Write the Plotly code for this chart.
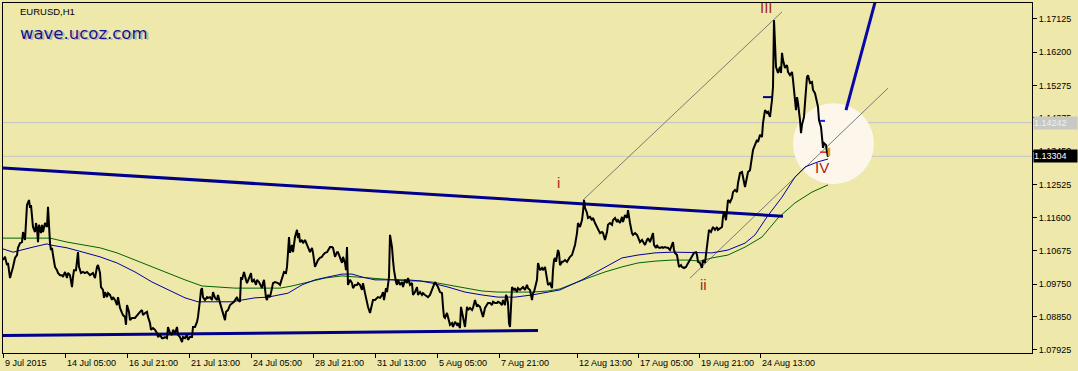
import plotly.graph_objects as go

# ---------------- data ----------------
# bar index (hourly bars, 0 = left edge of the chart) and price
bars = [0,2,4,5,7,9,10,12,14,15,17,19,20,22,23,24,26,27,28,29,30,32,33,34,35,36,38,39,40,42,44,45,46,47,48,49,50,52,54,55,57,59,60,62,64,65,67,69,70,71,73,74,75,76,78,80,82,84,87,90,92,94,95,97,98,100,101,102,104,105,107,109,110,112,114,115,117,119,120,122,123,124,126,127,129,132,134,136,137,139,140,142,144,145,147,148,150,152,154,155,157,159,160,162,164,165,167,169,170,172,174,175,177,179,180,182,184,185,187,189,190,192,194,195,196,197,198,199,200,202,204,205,207,209,210,212,214,215,217,219,220,222,223,225,227,229,231,234,235,237,238,239,241,243,244,246,248,249,251,253,254,256,258,259,260,261,263,264,265,267,269,270,272,275,277,279,280,281,283,284,285,286,287,289,290,292,294,295,296,297,299,300,302,304,305,307,309,310,312,314,315,317,319,320,322,324,325,327,329,330,332,334,335,337,339,340,342,343,344,345,347,349,350,352,354,355,357,359,360,362,364,365,367,369,370,372,374,375,377,379,380,381,383,384,385,386,387,389,390,391,393,394,395,397,399,400,402,404,405,407,409,410,412,414,415,417,419,420,422,424,425,427,429,430,432,434,435,437,439,440,441,442,444,445,447,449,450,452,454,455,457,458,459,461,462,464,465,467,469,470,472,474,475,477,479,480,482,484,485,487,489,490,492,494,495,497,499,500,502,503,504,505,506,507,508,509,511,512,514,515,517,519,520,522,524,525,527,529,530,531,532,534,535,536,537,539,540,542,544,545,547,549,550,551,552,553,555,556,557,559,560,562,564,565,567,569,570,572,574,575,577,579,580,581,582,584,585,587,589,590,592,594,595,597,599,600,602,604,605,607,609,610,612,614,615,617,619,620,622,624,625,626,627,629,630,632,634,635,637,639,640,642,644,645,647,649,650,651,653,654,655,657,659,660,662,664,665,667,669,670,671,672,674,675,676,678,679,681,683,684,686,688,689,691,693,694,695,697,699,700,702,704,705,706,708,710,712,714,715,717,719,720,721,723,724,725,727,729,730,732,734,735,737,739,740,742,744,745,747,749,750,752,754,755,757,759,760,762,764,765,767,769,770,771,772,773,775,777,778,779,780,782,784,785,787,789,790,791,793,794,795,797,798,799,801,802,803,804,805,807,809,810,812,814,815,816,818,819,820,821,823,824,825]
prices = [1.1042,1.1051,1.1028,1.1034,1.0992,1.1009,1.1023,1.1048,1.1056,1.1076,1.1089,1.1092,1.1120,1.1098,1.1162,1.1195,1.1209,1.1187,1.1195,1.1167,1.1134,1.1120,1.1145,1.1131,1.1092,1.1140,1.1117,1.1140,1.1120,1.1145,1.1134,1.1190,1.1126,1.1089,1.1070,1.1076,1.1056,1.1023,1.1014,1.1006,1.1000,1.1000,1.0995,1.1009,1.0992,1.1006,1.1000,1.0967,1.0995,1.1014,1.1014,1.1037,1.1064,1.1023,1.1006,1.1009,1.1006,1.1009,1.1000,1.1006,1.0992,1.1023,1.1028,1.1006,1.0967,1.0959,1.0937,1.0953,1.0939,1.0950,1.0945,1.0931,1.0939,1.0931,1.0917,1.0939,1.0909,1.0895,1.0889,1.0884,1.0862,1.0917,1.0898,1.0875,1.0881,1.0881,1.0889,1.0895,1.0898,1.0903,1.0889,1.0895,1.0898,1.0884,1.0867,1.0848,1.0853,1.0848,1.0839,1.0828,1.0834,1.0825,1.0825,1.0828,1.0825,1.0856,1.0839,1.0834,1.0848,1.0839,1.0856,1.0834,1.0828,1.0814,1.0828,1.0825,1.0834,1.0820,1.0828,1.0828,1.0856,1.0856,1.0870,1.0884,1.0903,1.0931,1.0959,1.0964,1.0939,1.0931,1.0939,1.0937,1.0939,1.0931,1.0953,1.0937,1.0931,1.0945,1.0923,1.0903,1.0889,1.0875,1.0898,1.0903,1.0917,1.0923,1.0926,1.0939,1.0931,1.0926,1.0995,1.0987,1.1009,1.0987,1.0978,1.0992,1.1006,1.0981,1.0987,1.0973,1.0987,1.0981,1.0967,1.0964,1.0978,1.0987,1.0937,1.0931,1.0945,1.0939,1.0964,1.0978,1.0981,1.0978,1.0973,1.0992,1.1006,1.1009,1.1006,1.1023,1.1062,1.1106,1.1062,1.1084,1.1064,1.1106,1.1126,1.1103,1.1117,1.1092,1.1098,1.1089,1.1098,1.1084,1.1078,1.1064,1.1076,1.1062,1.1023,1.1037,1.1042,1.1048,1.1051,1.1056,1.1062,1.1064,1.1070,1.1078,1.1078,1.1076,1.1051,1.1064,1.1064,1.1048,1.1034,1.1051,1.1034,1.1014,1.1078,1.0973,1.0987,1.0978,1.0964,1.0973,1.0973,1.0978,1.0973,1.0959,1.0978,1.0950,1.0923,1.0912,1.0895,1.0917,1.0931,1.0931,1.0937,1.0939,1.0937,1.0945,1.0953,1.0931,1.0964,1.0953,1.0973,1.0995,1.1112,1.1078,1.1042,1.1014,1.0981,1.0973,1.0987,1.0973,1.0981,1.0967,1.0987,1.0978,1.0992,1.0973,1.0978,1.0945,1.0953,1.0967,1.0945,1.0953,1.0945,1.0950,1.0945,1.0939,1.0939,1.0945,1.0964,1.0967,1.0981,1.0973,1.0967,1.0953,1.0950,1.0912,1.0884,1.0881,1.0895,1.0884,1.0862,1.0867,1.0856,1.0870,1.0862,1.0867,1.0853,1.0912,1.0895,1.0867,1.0856,1.0912,1.0903,1.0909,1.0903,1.0909,1.0931,1.0912,1.0917,1.0912,1.0895,1.0884,1.0909,1.0917,1.0923,1.0923,1.0917,1.0926,1.0923,1.0923,1.0926,1.0923,1.0917,1.0931,1.0917,1.0945,1.0939,1.0923,1.0867,1.0856,1.0923,1.0967,1.0959,1.0964,1.0953,1.0964,1.0959,1.0964,1.0967,1.0959,1.0973,1.0964,1.0959,1.0931,1.0950,1.0953,1.0964,1.0987,1.1034,1.1023,1.1014,1.1020,1.1014,1.1023,1.0981,1.0973,1.0978,1.0964,1.1014,1.1042,1.1048,1.1037,1.1070,1.1062,1.1028,1.1037,1.1037,1.1042,1.1037,1.1042,1.1051,1.1056,1.1064,1.1084,1.1117,1.1145,1.1134,1.1153,1.1176,1.1209,1.1187,1.1173,1.1159,1.1162,1.1153,1.1159,1.1145,1.1134,1.1131,1.1117,1.1120,1.1117,1.1098,1.1120,1.1140,1.1145,1.1140,1.1153,1.1159,1.1148,1.1153,1.1145,1.1162,1.1148,1.1167,1.1159,1.1181,1.1153,1.1145,1.1117,1.1112,1.1117,1.1112,1.1106,1.1092,1.1098,1.1092,1.1084,1.1098,1.1103,1.1092,1.1106,1.1117,1.1084,1.1076,1.1084,1.1078,1.1076,1.1078,1.1076,1.1078,1.1076,1.1076,1.1070,1.1084,1.1092,1.1070,1.1062,1.1056,1.1037,1.1023,1.1028,1.1023,1.1020,1.1023,1.1028,1.1037,1.1048,1.1051,1.1062,1.1064,1.1056,1.1037,1.1034,1.1020,1.1042,1.1034,1.1089,1.1117,1.1126,1.1120,1.1134,1.1126,1.1134,1.1126,1.1131,1.1134,1.1162,1.1176,1.1153,1.1181,1.1209,1.1203,1.1215,1.1231,1.1237,1.1231,1.1256,1.1284,1.1287,1.1273,1.1245,1.1273,1.1287,1.1292,1.1326,1.1348,1.1362,1.1376,1.1370,1.1390,1.1384,1.1423,1.1459,1.1451,1.1454,1.1440,1.1487,1.1523,1.1709,1.1607,1.1579,1.1562,1.1579,1.1562,1.1618,1.1598,1.1576,1.1584,1.1565,1.1556,1.1565,1.1543,1.1506,1.1459,1.1495,1.1479,1.1431,1.1395,1.1418,1.1440,1.1479,1.1523,1.1551,1.1556,1.1534,1.1537,1.1515,1.1506,1.1479,1.1468,1.1431,1.1412,1.1384,1.1354,1.1367,1.1362,1.1342,1.1329]

ma_fast_bars = [0,10,30,44,47,64,80,97,114,132,149,165,182,195,215,229,239,252,265,277,285,299,312,325,339,349,359,372,385,405,417,429,445,462,479,495,512,529,545,557,579,602,619,635,652,669,685,697,709,725,742,752,764,779,792,802,815,825]
ma_fast = [1.1073,1.1064,1.1078,1.1087,1.1084,1.1076,1.1064,1.1051,1.1034,1.1009,1.0981,1.0959,1.0937,1.0926,1.0926,1.0926,1.0931,1.0937,1.0939,1.0945,1.0950,1.0973,1.0987,1.0995,1.1003,1.1003,1.0995,1.0987,1.0987,1.0987,1.0984,1.0978,1.0967,1.0953,1.0945,1.0939,1.0939,1.0945,1.0953,1.0959,1.0987,1.1023,1.1048,1.1056,1.1062,1.1064,1.1064,1.1062,1.1062,1.1070,1.1089,1.1112,1.1162,1.1217,1.1273,1.1301,1.1315,1.1323]

ma_slow_bars = [0,30,47,64,80,97,114,132,149,165,182,199,215,232,249,265,277,289,305,322,339,355,372,389,405,417,429,445,462,479,495,512,529,545,557,585,602,619,635,652,669,685,697,709,725,742,759,775,792,809,825]
ma_slow = [1.1103,1.1103,1.1103,1.1092,1.1084,1.1076,1.1062,1.1042,1.1023,1.1006,1.0987,1.0970,1.0967,1.0964,1.0964,1.0964,1.0964,1.0970,1.0981,1.0992,1.0998,1.0995,1.0992,1.0987,1.0984,1.0984,1.0981,1.0973,1.0964,1.0956,1.0953,1.0953,1.0953,1.0956,1.0962,1.0992,1.1009,1.1023,1.1034,1.1039,1.1042,1.1042,1.1039,1.1048,1.1056,1.1078,1.1106,1.1159,1.1201,1.1231,1.1251]

# trend-line drawings (start bar, end bar, start price, end price)
resistance_line = ([0, 780], [1.1298, 1.1164])
support_line = ([0, 535], [1.0832, 1.0846])
target_line = ([843, 874], [1.1459, 1.1779])
channel_upper = ([580, 779], [1.1209, 1.1732])
channel_lower = ([687, 885], [1.0992, 1.1520])
level_lines = [1.14242, 1.13304]

# wave labels
wave_text = ["i", "ii", "III", "IV"]
wave_bar = [555, 700, 763, 819]
wave_price = [1.1259, 1.0973, 1.1743, 1.1298]

# axis ticks
y_ticks = [1.07925, 1.08850, 1.09750, 1.10675, 1.11600, 1.12525, 1.13450, 1.14375, 1.15275, 1.16200, 1.17125]
x_tick_bars = [0, 62, 124, 186, 248, 310, 372, 434, 496, 574, 635, 696, 757]
x_tick_text = ["9 Jul 2015", "14 Jul 05:00", "16 Jul 21:00", "21 Jul 13:00", "24 Jul 05:00",
               "28 Jul 21:00", "31 Jul 13:00", "5 Aug 05:00", "7 Aug 21:00", "12 Aug 13:00",
               "17 Aug 05:00", "19 Aug 21:00", "24 Aug 13:00"]

# ---------------- figure ----------------
BG = "#EEE8AA"
NAVY = "#00008B"
FONT = "Liberation Sans"
X_RANGE = [0, 1029]
Y_RANGE = [1.078366, 1.175666]

fig = go.Figure()

def line(xs, ys, color, width):
    fig.add_trace(go.Scatter(x=xs, y=ys, mode="lines", line=dict(color=color, width=width),
                             hoverinfo="skip", showlegend=False, cliponaxis=True))

line(*channel_upper, "#7a7a7a", 1)
line(*channel_lower, "#7a7a7a", 1)
line(ma_slow_bars, ma_slow, "#006400", 1)
line(ma_fast_bars, ma_fast, "#0000A0", 1)
line(*resistance_line, NAVY, 3)
line(*support_line, NAVY, 3)
line(*target_line, "#0808A8", 3)
line([760, 770], [1.1495, 1.1495], NAVY, 2)
line(bars, prices, "black", 2)
line([817, 823], [1.1342, 1.1342], "#E02020", 1.5)
line([817, 822], [1.1429, 1.1429], "#2020E0", 2)
line([826, 826], [1.1331, 1.1354], "#E0A020", 2.5)

shapes = [dict(type="circle", xref="x", yref="y", x0=790, x1=871, y0=1.1253, y1=1.1478,
               fillcolor="#FCF7EA", line=dict(width=0), layer="below")]
for lv in level_lines:
    shapes.append(dict(type="line", xref="paper", yref="y", x0=0, x1=1, y0=lv, y1=lv,
                       line=dict(color="#C4C4C4", width=1), layer="below"))

annotations = []
for t, b, p in zip(wave_text, wave_bar, wave_price):
    annotations.append(dict(x=b, y=p, xref="x", yref="y", text=t, showarrow=False,
                            font=dict(family=FONT, size=15, color="#A3281C")))
for b, t in zip(x_tick_bars, x_tick_text):
    annotations.append(dict(x=b, y=0, xref="x", yref="paper", text=t, showarrow=False,
                            xanchor="left", yanchor="top", yshift=-3,
                            font=dict(family=FONT, size=9, color="black")))
# header texts (y given in pixels above the bottom of the plot area, converted to paper units)
PLOT_H = 350.0
annotations.append(dict(x=15, y=341.5 / PLOT_H, xref="x", yref="paper", text="EURUSD,H1", showarrow=False,
                        xanchor="left", yanchor="middle", font=dict(family=FONT, size=9.5, color="black")))
annotations.append(dict(x=16.5, y=318.5 / PLOT_H, xref="x", yref="paper", text="wave.ucoz.com", showarrow=False,
                        xanchor="left", yanchor="middle", font=dict(family="DejaVu Sans", size=16.5, color="#B4B4B4")))
annotations.append(dict(x=15, y=320 / PLOT_H, xref="x", yref="paper", text="wave.ucoz.com", showarrow=False,
                        xanchor="left", yanchor="middle", font=dict(family="DejaVu Sans", size=16.5, color="#12128C")))
# price boxes on the right axis
annotations.append(dict(x=1, y=level_lines[0], xref="paper", yref="y", text="1.14242", showarrow=False,
                        xanchor="left", yanchor="middle", xshift=1, width=43, height=12, align="left",
                        bgcolor="#C9C9C4", borderpad=0, font=dict(family=FONT, size=9, color="#EFEFEF")))
annotations.append(dict(x=1, y=level_lines[1], xref="paper", yref="y", text="1.13304", showarrow=False,
                        xanchor="left", yanchor="middle", xshift=1, width=43, height=12, align="left",
                        bgcolor="black", borderpad=0, font=dict(family=FONT, size=9, color="white")))

fig.update_layout(
    width=1078, height=371,
    margin=dict(l=3, r=46, t=3, b=18),
    paper_bgcolor=BG, plot_bgcolor=BG,
    showlegend=False, hovermode=False,
    shapes=shapes, annotations=annotations,
    xaxis=dict(range=X_RANGE, showgrid=False, zeroline=False, showline=True, mirror=True,
               linecolor="black", linewidth=1, ticks="outside", ticklen=4, tickcolor="black",
               tickvals=x_tick_bars, showticklabels=False, fixedrange=True),
    yaxis=dict(range=Y_RANGE, side="right", showgrid=False, zeroline=False, showline=True, mirror=True,
               linecolor="black", linewidth=1, ticks="outside", ticklen=4, tickcolor="black",
               tickvals=y_ticks, ticktext=[f"{v:.5f}" for v in y_ticks],
               tickfont=dict(family=FONT, size=9, color="black"), fixedrange=True),
)

fig.write_html("out.html", config={"displayModeBar": False})
